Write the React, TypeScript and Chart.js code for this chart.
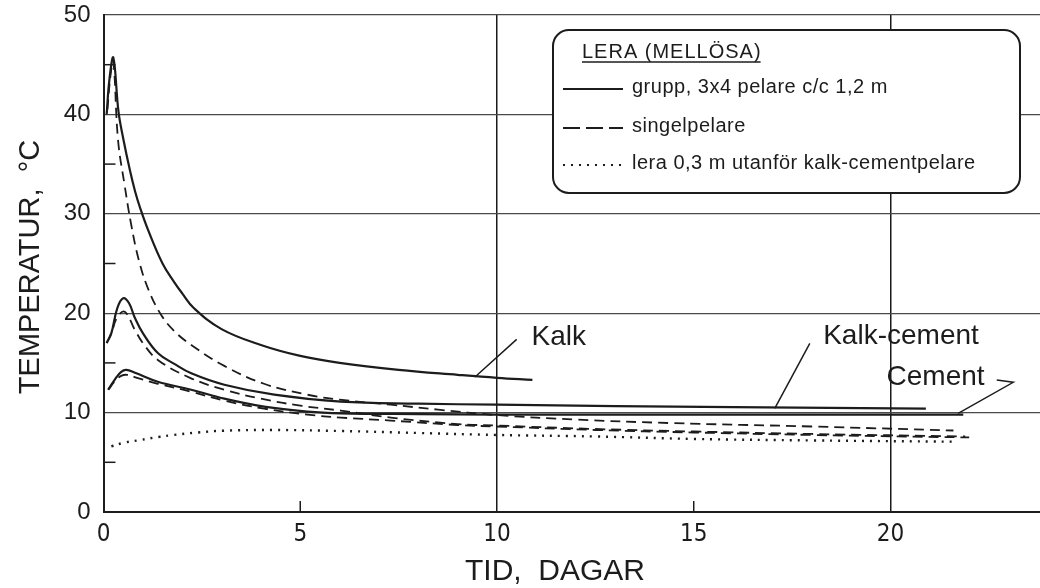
import React, { useEffect, useRef } from "react";
import { Chart, registerables } from "chart.js";

Chart.register(...registerables);

// ---- axis ticks ----
const xTickValues = [0, 5, 10, 15, 20];
const yTickValues = [0, 10, 20, 30, 40, 50];
const xMinorTicks = [5, 15];
const yMinorTicks = [5, 15, 25, 35, 45];

// ---- Kalk (lime) ----
const kalkGruppX = [0.08, 0.15, 0.25, 0.38, 0.5, 0.67, 0.8, 0.93, 1.13, 1.5, 1.8, 2.0, 2.3, 3.0, 4.0, 5.0, 6.0, 7.5, 9.0, 10.0, 10.9];
const kalkGruppY = [40.0, 43.5, 45.7, 40.3, 37.6, 34.4, 32.3, 30.6, 28.4, 25.0, 23.1, 22.0, 20.5, 18.4, 16.8, 15.7, 15.0, 14.3, 13.8, 13.5, 13.3];
const kalkSingelX = [0.1, 0.18, 0.25, 0.37, 0.54, 0.7, 0.9, 1.15, 1.47, 1.8, 2.23, 3.07, 4.08, 5.18, 6.0, 7.3, 8.5, 10, 12, 14.4, 18, 21.6];
const kalkSingelY = [40.5, 44.0, 45.3, 37.4, 32.8, 29.0, 25.3, 22.3, 19.8, 18.2, 16.8, 14.7, 12.9, 11.8, 11.3, 10.8, 10.3, 9.75, 9.3, 8.95, 8.6, 8.2];

// ---- Kalk-cement ----
const kcGruppX = [0.08, 0.2, 0.35, 0.5, 0.65, 0.79, 1.0, 1.38, 1.8, 2.23, 3.07, 4.34, 6.03, 8.0, 10, 13, 16, 20.9];
const kcGruppY = [17.0, 18.0, 20.5, 21.5, 21.0, 19.6, 18.0, 16.0, 14.9, 13.95, 12.8, 11.8, 11.1, 10.9, 10.8, 10.65, 10.55, 10.4];
const kcSingelX = [0.08, 0.2, 0.35, 0.54, 0.8, 1.0, 1.38, 2.2, 3.07, 4.0, 5.0, 6.03, 7.3, 9, 10, 12.5, 15, 18, 21.9];
const kcSingelY = [17.0, 18.0, 19.6, 20.15, 18.3, 17.0, 15.3, 13.5, 12.3, 11.4, 10.7, 10.2, 9.5, 8.85, 8.7, 8.35, 8.1, 7.85, 7.6];

// ---- Cement ----
const cGruppX = [0.12, 0.3, 0.45, 0.58, 0.8, 1.38, 2.23, 3.07, 4.08, 5.18, 6.03, 8, 10, 15, 21.85];
const cGruppY = [12.3, 13.4, 14.1, 14.3, 14.0, 13.1, 12.3, 11.4, 10.6, 10.1, 9.93, 9.85, 9.8, 9.8, 9.8];
const cSingelX = [0.12, 0.3, 0.45, 0.6, 0.85, 1.38, 2.23, 3.07, 4.08, 5.18, 6.03, 7.3, 9, 10, 12.5, 15, 18, 22];
const cSingelY = [12.3, 13.2, 13.7, 13.8, 13.5, 12.9, 12.1, 11.2, 10.4, 9.8, 9.5, 9.2, 8.75, 8.6, 8.25, 8.0, 7.75, 7.5];

// ---- Lera 0,3 m utanför ----
const leraX = [0.2, 0.5, 0.93, 1.4, 1.77, 2.4, 3.05, 4.3, 6.03, 8, 10, 12.5, 15, 18, 21.7];
const leraY = [6.6, 6.95, 7.24, 7.55, 7.75, 8.0, 8.18, 8.25, 8.15, 7.95, 7.75, 7.6, 7.35, 7.2, 7.07];

// ---- texts ----
const yTitle = "TEMPERATUR,  °C";
const xTitle = "TID,  DAGAR";
const legendTitle = "LERA (MELLÖSA)";
const legendLabels = ["grupp, 3x4 pelare c/c 1,2 m", "singelpelare", "lera 0,3 m utanför kalk-cementpelare"];
const curveLabels = ["Kalk", "Kalk-cement", "Cement"];

const FONT = "'Liberation Sans', Arial, sans-serif";
const INK = "#1c1c1c";

const pts = (xs: number[], ys: number[]) => xs.map((x, i) => ({ x, y: ys[i] }));

export default function App() {
  const ref = useRef<HTMLCanvasElement | null>(null);

  useEffect(() => {
    if (!ref.current) return;

    const solid = (xs: number[], ys: number[]) => ({
      data: pts(xs, ys),
      borderColor: INK,
      borderWidth: 2.2,
      pointRadius: 0,
      fill: false,
      tension: 0.4,
    });
    const dashed = (xs: number[], ys: number[]) => ({
      ...solid(xs, ys),
      borderWidth: 1.8,
      borderDash: [10, 6],
    });

    const overlay = {
      id: "overlay",
      afterDraw(chart: any) {
        const ctx = chart.ctx as CanvasRenderingContext2D;
        const xs = chart.scales.x;
        const ys = chart.scales.y;
        const area = chart.chartArea;
        const px = (v: number) => xs.getPixelForValue(v);
        const py = (v: number) => ys.getPixelForValue(v);
        ctx.save();
        ctx.strokeStyle = INK;
        ctx.fillStyle = INK;

        // minor ticks
        ctx.lineWidth = 1.5;
        yMinorTicks.forEach((v) => {
          ctx.beginPath();
          ctx.moveTo(area.left, py(v));
          ctx.lineTo(area.left + 12, py(v));
          ctx.stroke();
        });
        xMinorTicks.forEach((v) => {
          ctx.beginPath();
          ctx.moveTo(px(v), area.bottom);
          ctx.lineTo(px(v), area.bottom - 11);
          ctx.stroke();
        });

        // axis titles
        ctx.font = `29px ${FONT}`;
        ctx.textAlign = "center";
        ctx.textBaseline = "alphabetic";
        ctx.save();
        ctx.translate(39, 267);
        ctx.rotate(-Math.PI / 2);
        ctx.fillText(yTitle, 0, 0);
        ctx.restore();
        ctx.font = `30px ${FONT}`;
        ctx.fillText(xTitle, 555, 580);

        // curve labels with leader lines
        ctx.lineWidth = 1.5;
        const leader = (p: number[][]) => {
          ctx.beginPath();
          p.forEach(([x, y], i) => (i ? ctx.lineTo(px(x), py(y)) : ctx.moveTo(px(x), py(y))));
          ctx.stroke();
        };
        leader([[9.44, 13.58], [10.5, 17.37]]);
        leader([[17.06, 10.43], [17.95, 16.97]]);
        leader([[22.7, 13.28], [23.12, 13.05], [21.72, 9.93]]);
        ctx.font = `28px ${FONT}`;
        ctx.textAlign = "left";
        ctx.textBaseline = "middle";
        ctx.fillText(curveLabels[0], px(10.88), py(17.6));
        ctx.fillText(curveLabels[1], px(18.29), py(17.63));
        ctx.fillText(curveLabels[2], px(19.9), py(13.6));

        // legend box
        ctx.fillStyle = "#fff";
        ctx.lineWidth = 2;
        ctx.beginPath();
        (ctx as any).roundRect(553, 30, 467, 163, 16);
        ctx.fill();
        ctx.stroke();
        ctx.fillStyle = INK;
        ctx.font = `20px ${FONT}`;
        (ctx as any).letterSpacing = "1px";
        ctx.textBaseline = "alphabetic";
        ctx.fillText(legendTitle, 582, 58);
        const tw = ctx.measureText(legendTitle).width;
        ctx.lineWidth = 1.5;
        ctx.beginPath();
        ctx.moveTo(582, 62);
        ctx.lineTo(582 + tw - 1, 62);
        ctx.stroke();
        (ctx as any).letterSpacing = "0.5px";
        ctx.textBaseline = "middle";
        const rows = [87, 126, 163];
        const dashes = [[], [17, 6], [2, 6]];
        rows.forEach((y, i) => {
          ctx.setLineDash(dashes[i]);
          ctx.lineWidth = i === 0 ? 2.2 : 2;
          ctx.beginPath();
          ctx.moveTo(563, y + 2);
          ctx.lineTo(623, y + 2);
          ctx.stroke();
          ctx.setLineDash([]);
          ctx.fillText(legendLabels[i], 632, y);
        });
        ctx.restore();
      },
    };

    const chart = new Chart(ref.current, {
      type: "line",
      data: {
        datasets: [
          solid(kalkGruppX, kalkGruppY),
          dashed(kalkSingelX, kalkSingelY),
          solid(kcGruppX, kcGruppY),
          dashed(kcSingelX, kcSingelY),
          solid(cGruppX, cGruppY),
          dashed(cSingelX, cSingelY),
          { ...solid(leraX, leraY), borderWidth: 2.4, borderDash: [2, 6] },
        ] as any,
      },
      options: {
        animation: false,
        responsive: false,
        layout: { padding: { top: 15, right: 0, bottom: 0, left: 0 } },
        plugins: { legend: { display: false }, tooltip: { enabled: false } },
        scales: {
          x: {
            type: "linear",
            min: 0,
            max: 23.8,
            afterFit: (s: any) => {
              s.height = 76;
            },
            afterBuildTicks: (s: any) => {
              s.ticks = xTickValues.map((value) => ({ value }));
            },
            ticks: {
              padding: 8,
              maxRotation: 0,
              autoSkip: false,
              color: INK,
              font: { family: "'Liberation Sans Narrow', 'DejaVu Sans Condensed', 'Liberation Sans', sans-serif", size: 24 },
            },
            grid: {
              drawTicks: false,
              color: (c: any) => (c.tick && (c.tick.value === 10 || c.tick.value === 20) ? "#1a1a1a" : "rgba(0,0,0,0)"),
              lineWidth: 1.5,
            },
            border: { display: true, color: INK, width: 2 },
          },
          y: {
            type: "linear",
            min: 0,
            max: 50,
            afterFit: (s: any) => {
              s.width = 103.5;
              s.paddingTop = 0;
              s.paddingBottom = 0;
            },
            afterBuildTicks: (s: any) => {
              s.ticks = yTickValues.map((value) => ({ value }));
            },
            ticks: {
              padding: 13,
              color: INK,
              font: { family: FONT, size: 24 },
            },
            grid: {
              drawTicks: false,
              color: (c: any) => (c.tick && c.tick.value > 0 ? "#4a4a4a" : "rgba(0,0,0,0)"),
              lineWidth: 1.2,
            },
            border: { display: true, color: INK, width: 2 },
          },
        },
      } as any,
      plugins: [overlay],
    });

    return () => chart.destroy();
  }, []);

  return (
    <div style={{ position: "fixed", left: 0, top: 0, width: 1040, height: 588, background: "#fff" }}>
      <canvas ref={ref} width={1040} height={588} style={{ display: "block" }} />
    </div>
  );
}
